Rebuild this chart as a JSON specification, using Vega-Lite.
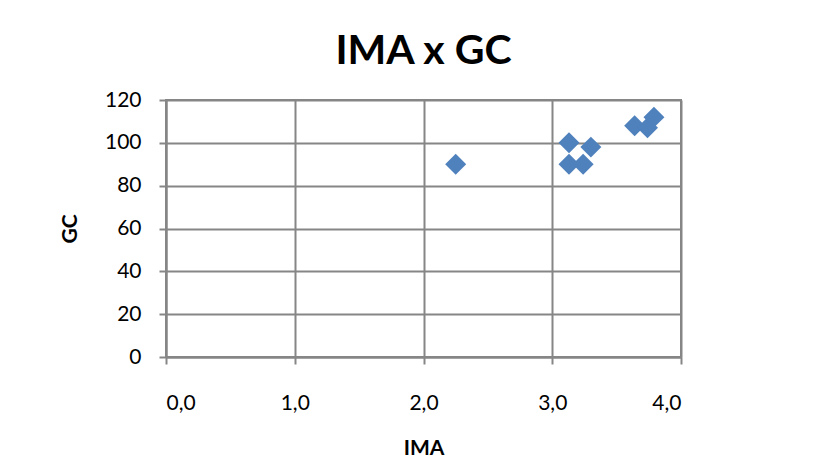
{
  "$schema": "https://vega.github.io/schema/vega-lite/v6.json",
  "width": 515,
  "height": 257,
  "autosize": {"type": "none"},
  "padding": {"left": 166, "top": 100, "right": 156, "bottom": 110},
  "background": "white",
  "title": {
    "text": "IMA x GC",
    "font": "Lato",
    "fontSize": 41,
    "fontWeight": "bold",
    "color": "#000000",
    "anchor": "middle",
    "offset": 16
  },
  "data": {
    "values": [
      {"IMA": 2.25, "GC": 90},
      {"IMA": 3.13, "GC": 100},
      {"IMA": 3.30, "GC": 98},
      {"IMA": 3.13, "GC": 90},
      {"IMA": 3.24, "GC": 90},
      {"IMA": 3.64, "GC": 108},
      {"IMA": 3.74, "GC": 107},
      {"IMA": 3.79, "GC": 112}
    ]
  },
  "mark": {"type": "point", "shape": "diamond", "filled": true, "color": "#4F81BD", "opacity": 1, "size": 440},
  "encoding": {
    "x": {
      "field": "IMA",
      "type": "quantitative",
      "scale": {"domain": [0, 4], "nice": false},
      "axis": {
        "values": [0, 1, 2, 3, 4],
        "labelExpr": "replace(format(datum.value, '.1f'), '.', ',')",
        "title": "IMA",
        "titleFont": "Lato",
        "titleFontSize": 21,
        "titleFontWeight": "bold",
        "titleColor": "#000000",
        "titlePadding": 24,
        "labelFont": "Lato",
        "labelFontSize": 21,
        "labelColor": "#000000",
        "labelPadding": 28,
        "tickSize": 7,
        "tickColor": "#868686",
        "tickWidth": 2,
        "domainColor": "#868686",
        "domainWidth": 2,
        "gridColor": "#868686",
        "gridWidth": 2
      }
    },
    "y": {
      "field": "GC",
      "type": "quantitative",
      "scale": {"domain": [0, 120], "nice": false},
      "axis": {
        "values": [0, 20, 40, 60, 80, 100, 120],
        "title": "GC",
        "titleFont": "Lato",
        "titleFontSize": 21,
        "titleFontWeight": "bold",
        "titleColor": "#000000",
        "titlePadding": 24,
        "labelFont": "Lato",
        "labelFontSize": 21,
        "labelColor": "#000000",
        "labelPadding": 18,
        "tickSize": 7,
        "tickColor": "#868686",
        "tickWidth": 2,
        "domainColor": "#868686",
        "domainWidth": 2,
        "gridColor": "#868686",
        "gridWidth": 2
      }
    }
  },
  "config": {
    "view": {"stroke": "#868686", "strokeWidth": 2}
  }
}
